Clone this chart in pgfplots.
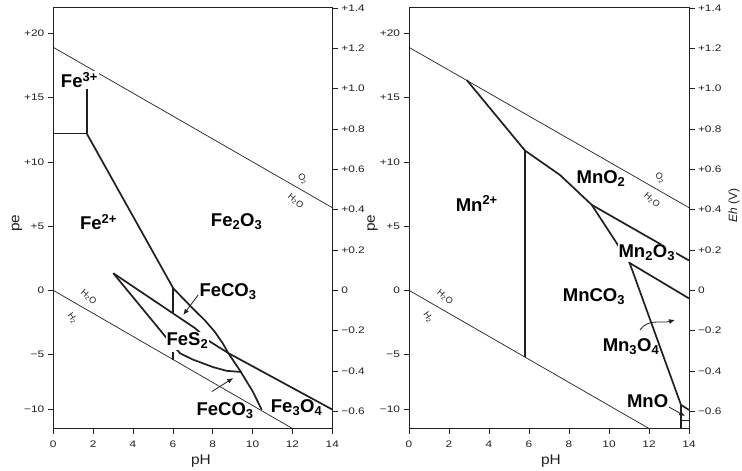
\documentclass[border=0pt]{standalone}
\usepackage{pgfplots}
\pgfplotsset{compat=1.18}
\usepackage{fontspec}
\setmainfont{Liberation Sans}
\newfontfamily\widefont[FakeStretch=1.25]{Liberation Sans}
\newfontfamily\labfont[FakeStretch=1.1]{Liberation Sans}
\usetikzlibrary{arrows.meta}
\definecolor{ink}{HTML}{231F20}
\newcommand\biglab{\fontsize{18.5}{20}\selectfont\bfseries}
\newcommand\sm{\fontsize{9}{10}\selectfont}
\tikzset{arr/.style={ink, line width=0.8pt, -{Latex[length=6pt,width=5pt]}}}
\pgfplotsset{
  base/.style={
    scale only axis, width=279pt, height=421.5pt,
    xmin=0, xmax=14, ymin=-0.685, ymax=1.405,
    axis line style={ink, line width=0.8pt},
    tick style={ink, line width=0.6pt},
    tick align=outside, major tick length=5.5pt,
    every tick label/.append style={font=\widefont\fontsize{9.5}{11}\selectfont, text=ink},
    clip=false, no markers,
  },
  leftax/.style={base,
    xtick={0,2,...,14}, xticklabels={0,2,4,6,8,10,12,14}, xtick pos=bottom,
    xticklabel style={yshift=-3.5pt},
    ytick={-0.589,-0.318,0,0.319,0.637,0.959,1.276},
    yticklabels={−10,−5,0,+5,+10,+15,+20}, ytick pos=left,
    xlabel={pH}, ylabel={pe},
    every axis y label/.style={at={(axis description cs:-0.13,0.4875)}, rotate=90, anchor=center,
      font=\labfont\fontsize{14}{16}\selectfont, text=ink},
  },
  rightax/.style={base, hide x axis, axis y line*=right,
    ytick={-0.6,-0.4,...,1.41},
    yticklabels={−0.6,−0.4,−0.2,0,+0.2,+0.4,+0.6,+0.8,+1.0,+1.2,+1.4},
  },
  bd/.style={ink, line width=1.7pt, line join=round},
  wt/.style={ink, line width=0.7pt},
}
\begin{document}
\begin{tikzpicture}[x=1pt,y=1pt]
% ================= Fe panel =================
\begin{axis}[leftax, at={(53.3pt,42.5pt)}, anchor=south west,
  every axis x label/.style={at={(axis description cs:0.529,-0.077)}, anchor=center,
    font=\labfont\fontsize{14}{16}\selectfont, text=ink}]
\addplot[wt] coordinates {(0,1.205) (14,0.41)};
\addplot[wt] coordinates {(0,0) (12.0,-0.685)};
\addplot[bd] coordinates {(0,0.778) (1.676,0.778)};
\addplot[bd] coordinates {(1.676,0.778) (1.676,1.010)};
\addplot[bd] coordinates {(1.676,0.778) (6.02,0.010) (7.0,-0.090) (7.6,-0.148) (8.1,-0.205) (8.5,-0.262) (8.78,-0.311) (9.37,-0.398) (10.0,-0.500) (10.46,-0.592)};
\addplot[bd] coordinates {(6.02,0.010) (6.02,-0.114)};
\addplot[bd] coordinates {(3.01,0.085) (7.12,-0.188) (7.86,-0.254) (8.78,-0.311) (14,-0.591)};
\addplot[bd] coordinates {(3.01,0.085) (5.69,-0.237) (6.36,-0.312) (7.0,-0.343) (8.03,-0.381) (8.7,-0.399) (9.45,-0.405)};
\addplot[bd] coordinates {(6.02,-0.307) (6.02,-0.343)};
\draw[arr] (axis cs:7.27,-0.023) -- (axis cs:6.52,-0.122);
\draw[arr] (axis cs:7.95,-0.502) -- (axis cs:9.03,-0.435);
\node[fill=white, inner sep=1.5pt] at (axis cs:1.31,1.043) {\biglab Fe\textsuperscript{3+}};
\node at (axis cs:2.27,0.339) {\biglab Fe\textsuperscript{2+}};
\node at (axis cs:9.20,0.339) {\biglab Fe\textsubscript{2}O\textsubscript{3}};
\node at (axis cs:8.77,-0.008) {\biglab FeCO\textsubscript{3}};
\node[fill=white, inner sep=1pt] at (axis cs:6.73,-0.251) {\biglab FeS\textsubscript{2}};
\node at (axis cs:8.62,-0.598) {\biglab FeCO\textsubscript{3}};
\node at (axis cs:12.21,-0.583) {\biglab Fe\textsubscript{3}O\textsubscript{4}};
\node[rotate=-50, text=ink, inner sep=0.5pt] at (axis cs:12.52,0.552) {\sm O\textsubscript{2}};
\node[rotate=-40, text=ink, inner sep=0.5pt] at (axis cs:12.16,0.443) {\sm H\textsubscript{2}O};
\node[rotate=-40, text=ink, inner sep=0.5pt] at (axis cs:1.77,-0.034) {\sm H\textsubscript{2}O};
\node[rotate=-55, text=ink, inner sep=0.5pt] at (axis cs:0.96,-0.140) {\sm H\textsubscript{2}};
\end{axis}
\begin{axis}[rightax, at={(53.3pt,42.5pt)}, anchor=south west]
\end{axis}
% ================= Mn panel =================
\begin{axis}[leftax, width=280pt, at={(409pt,42.5pt)}, anchor=south west,
  every axis x label/.style={at={(axis description cs:0.507,-0.077)}, anchor=center,
    font=\labfont\fontsize{14}{16}\selectfont, text=ink}]
\addplot[wt] coordinates {(0,1.205) (14,0.41)};
\addplot[wt] coordinates {(0,0) (12.0,-0.685)};
\addplot[bd] coordinates {(2.885,1.043) (5.8,0.693)};
\addplot[bd] coordinates {(5.8,0.693) (5.8,-0.332)};
\addplot[bd] coordinates {(5.8,0.693) (7.55,0.572) (9.135,0.424)};
\addplot[bd] coordinates {(9.135,0.424) (14,0.148)};
\addplot[bd] coordinates {(9.135,0.424) (11.03,0.136)};
\addplot[bd] coordinates {(11.03,0.136) (14,-0.04)};
\addplot[bd] coordinates {(11.03,0.136) (13.6,-0.568)};
\addplot[bd] coordinates {(13.6,-0.568) (13.6,-0.685)};
\addplot[bd] coordinates {(13.6,-0.568) (14,-0.593)};
\addplot[ink, line width=1pt] coordinates {(13.6,-0.647) (14,-0.647)};
\draw[arr] (axis cs:11.55,-0.196) to[out=55,in=195] (axis cs:13.3,-0.147);
\draw[arr] (axis cs:12.97,-0.577) -- (axis cs:13.8,-0.623);
\node at (axis cs:3.39,0.431) {\biglab Mn\textsuperscript{2+}};
\node at (axis cs:9.6,0.555) {\biglab MnO\textsubscript{2}};
\node[fill=white, inner sep=1pt] at (axis cs:11.89,0.185) {\biglab Mn\textsubscript{2}O\textsubscript{3}};
\node at (axis cs:9.25,-0.031) {\biglab MnCO\textsubscript{3}};
\node at (axis cs:11.1,-0.281) {\biglab Mn\textsubscript{3}O\textsubscript{4}};
\node[fill=white, inner sep=1pt] at (axis cs:11.93,-0.547) {\biglab MnO};
\node[rotate=-50, text=ink, inner sep=0.5pt] at (axis cs:12.56,0.558) {\sm O\textsubscript{2}};
\node[rotate=-40, text=ink, inner sep=0.5pt] at (axis cs:12.15,0.448) {\sm H\textsubscript{2}O};
\node[rotate=-40, text=ink, inner sep=0.5pt] at (axis cs:1.8,-0.034) {\sm H\textsubscript{2}O};
\node[rotate=-55, text=ink, inner sep=0.5pt] at (axis cs:0.96,-0.135) {\sm H\textsubscript{2}};
\end{axis}
\begin{axis}[rightax, width=280pt, at={(409pt,42.5pt)}, anchor=south west,
  ylabel={\textit{Eh} (V)},
  every axis y label/.style={at={(axis description cs:1.161,0.528)}, rotate=90, anchor=center,
    font=\fontsize{12}{14}\selectfont, text=ink}]
\end{axis}
\pgfresetboundingbox
\path[use as bounding box] (0pt,0pt) rectangle (742pt,471pt);
\end{tikzpicture}
\end{document}
